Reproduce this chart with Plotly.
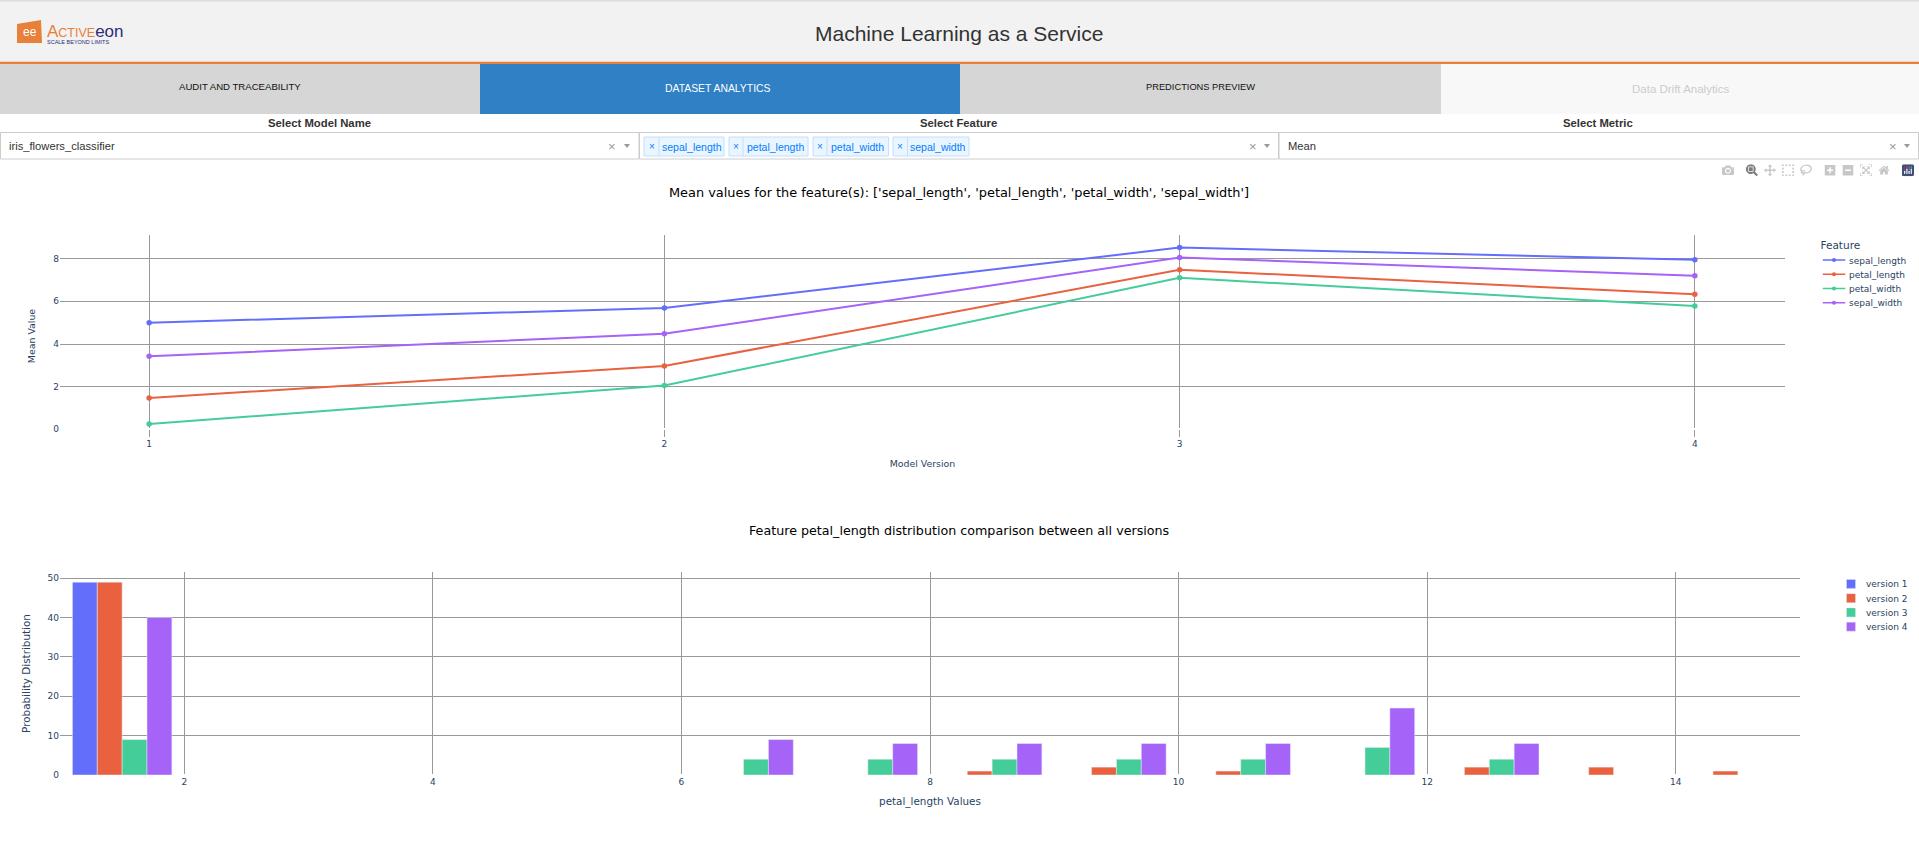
import plotly.graph_objects as go

# page title and tabs
page_title = "Machine Learning as a Service"
tab_labels = ["AUDIT AND TRACEABILITY", "DATASET ANALYTICS", "PREDICTIONS PREVIEW", "Data Drift Analytics"]
select_labels = ["Select Model Name", "Select Feature", "Select Metric"]
select_values = ["iris_flowers_classifier", "", "Mean"]

# line chart
features = ["sepal_length", "petal_length", "petal_width", "sepal_width"]
versions = [1, 2, 3, 4]
sepal_length = [5.0, 5.69, 8.52, 7.95]
petal_length = [1.47, 2.97, 7.48, 6.33]
petal_width = [0.25, 2.05, 7.1, 5.78]
sepal_width = [3.42, 4.48, 8.05, 7.2]

# histogram
bins = [1.5, 6.5, 7.5, 8.5, 9.5, 10.5, 11.5, 12.5, 13.5, 14.5]
version_1 = [49, None, None, None, None, None, None, None, None, None]
version_2 = [49, None, None, 1, 2, 1, None, 2, 2, 1]
version_3 = [9, 4, 4, 4, 4, 4, 7, 4, None, None]
version_4 = [40, 9, 8, 8, 8, 8, 17, 8, None, None]

W = 1919
H = 847
SANS = "Liberation Sans"
PLOT_FONT = "DejaVu Sans"
COLORS = ["#636efa", "#e9613f", "#44cc99", "#a563f7"]


def X(px):
    return px / W


def Y(py):
    return 1 - py / H


def box(x0, y0, x1, y1, fill, line=None, lw=1):
    return dict(type="rect", xref="paper", yref="paper", x0=X(x0), x1=X(x1), y0=Y(y0), y1=Y(y1),
                fillcolor=fill, line=dict(color=line or fill, width=lw if line else 0), layer="below")


def label(x, y, text, size, color="#333333", anchor="center", family=SANS):
    return dict(xref="paper", yref="paper", x=X(x), y=Y(y), text=text, showarrow=False, xanchor=anchor,
                yanchor="middle", font=dict(family=family, size=size, color=color))


def arrow(x, y):
    path = f"M {X(x - 3)} {Y(y - 2)} L {X(x + 3)} {Y(y - 2)} L {X(x)} {Y(y + 2)} Z"
    return dict(type="path", xref="paper", yref="paper", path=path, fillcolor="#999999", line=dict(width=0))


fig = go.Figure()

for name, vals, col in zip(features, [sepal_length, petal_length, petal_width, sepal_width], COLORS):
    fig.add_trace(go.Scatter(x=versions, y=vals, name=name, mode="lines+markers",
                             line=dict(color=col, width=2), marker=dict(size=5.5),
                             legend="legend", xaxis="x", yaxis="y"))

for i, vals in enumerate([version_1, version_2, version_3, version_4]):
    fig.add_trace(go.Bar(x=bins, y=vals, name=f"version {i + 1}", marker_color=COLORS[i],
                         legend="legend2", xaxis="x2", yaxis="y2"))

shapes = [
    box(0, 0, W, 62, "#f2f2f2"),
    box(0, 0, W, 1.5, "#dddddd"),
    box(0, 61.7, W, 64, "#e8803a"),
    box(0, 64, 480, 114, "#d6d6d6"),
    box(480, 64, 960, 114, "#2f80c4"),
    box(960, 64, 1441, 114, "#d6d6d6"),
    box(1441, 64, W, 114, "#f8f8f8"),
    box(0.5, 132.5, 639, 159, "#ffffff", "#cccccc"),
    box(639.5, 132.5, 1278.5, 159, "#ffffff", "#cccccc"),
    box(1279, 132.5, 1918.5, 159, "#ffffff", "#cccccc"),
    # logo
    dict(type="path", xref="paper", yref="paper", fillcolor="#e8803a", line=dict(width=0),
         path=f"M {X(17)} {Y(24)} L {X(41)} {Y(20)} L {X(42)} {Y(43)} L {X(17)} {Y(43)} Z"),
]

annotations = [
    label(959, 33, page_title, 21, "#333333"),
    label(240, 87, tab_labels[0], 9.6, "#111111"),
    label(717.5, 88, tab_labels[1], 10.4, "#ffffff"),
    label(1200, 87, tab_labels[2], 9.3, "#111111"),
    label(1680, 89, tab_labels[3], 11.5, "#cccccc"),
    label(319, 123, f"<b>{select_labels[0]}</b>", 11.3),
    label(958.5, 123, f"<b>{select_labels[1]}</b>", 11.3),
    label(1598, 123, f"<b>{select_labels[2]}</b>", 11.3),
    label(7, 146, select_values[0], 11.2, anchor="left"),
    label(1286, 146, select_values[2], 11.2, anchor="left"),
    # logo text
    label(29.5, 32.5, "ee", 12, "#ffffff"),
    label(45, 31.5, 'A<span style="font-size:12.5px">CTIVE</span><span style="color:#2c2c7c">eon</span>',
          17, "#e8803a", anchor="left"),
    label(45, 42, "SCALE BEYOND LIMITS", 5.5, "#2c2c7c", anchor="left"),
    # plot titles
    label(959, 192.5, "Mean values for the feature(s): ['sepal_length', 'petal_length', 'petal_width', 'sepal_width']",
          12.9, "#000000", family=PLOT_FONT),
    label(959, 530, "Feature petal_length distribution comparison between all versions",
          12.7, "#000000", family=PLOT_FONT),
]

for cx, ax in [(612, 627), (1253, 1267), (1893, 1907)]:
    annotations.append(label(cx, 146, "×", 13, "#999999"))
    shapes.append(arrow(ax, 146))

# feature chips of the multi select
chip_edges = [(644, 659, 724), (729, 743, 808), (813, 827, 888.5), (893, 907.5, 969)]
for name, (x0, xm, x1) in zip(features, chip_edges):
    shapes.append(box(x0, 137, x1, 156, "#ebf5ff", "#c2e0ff"))
    shapes.append(dict(type="line", xref="paper", yref="paper", x0=X(xm), x1=X(xm), y0=Y(137), y1=Y(156),
                       line=dict(color="#c2e0ff", width=1)))
    annotations.append(label((x0 + xm) / 2, 146.5, "×", 10, "#007eff"))
    annotations.append(label((xm + x1) / 2, 147, name, 10.5, "#007eff"))

fig.update_layout(
    width=W,
    height=H,
    autosize=False,
    margin=dict(l=0, r=0, t=0, b=0, autoexpand=False),
    paper_bgcolor="white",
    plot_bgcolor="white",
    font=dict(family=PLOT_FONT, size=9, color="#2a3f5f"),
    shapes=shapes,
    annotations=annotations,
    barmode="group",
    bargap=0.2,
    xaxis=dict(domain=[X(60), X(1785)], range=[0.827, 4.175], tickvals=versions, gridcolor="#999999",
               anchor="y", title=dict(text="Model Version", standoff=12, font=dict(size=9.4)), zeroline=False),
    yaxis=dict(domain=[Y(437), Y(235)], range=[-0.36, 9.11], dtick=2, gridcolor="#999999",
               zerolinecolor="white", zerolinewidth=2,
               anchor="x", title=dict(text="Mean Value", standoff=15, font=dict(size=9.4))),
    xaxis2=dict(domain=[X(60), X(1800)], range=[1, 15], dtick=2, gridcolor="#999999", anchor="y2",
                title=dict(text="petal_length Values", standoff=11, font=dict(size=10.4)), zeroline=False),
    yaxis2=dict(domain=[Y(775), Y(572)], range=[0, 51.58], dtick=10, gridcolor="#999999",
                zerolinecolor="white", zerolinewidth=2,
                anchor="x2", title=dict(text="Probability Distribution", standoff=14, font=dict(size=10.4))),
    # both legends are drawn at font size 12 and shrunk by the post script below
    legend=dict(x=X(1819), y=Y(235.5), xanchor="left", yanchor="top", title=dict(text="Feature", font=dict(size=14)),
                font=dict(size=12)),
    legend2=dict(x=X(1836), y=Y(573), xanchor="left", yanchor="top", font=dict(size=12)),
)

fig.write_html(
    "out.html",
    config=dict(displayModeBar=True),
    post_script=(
        "document.body.style.margin='0';"
        "var m=document.querySelector('.modebar');"
        "if(m){m.style.top='162px';m.style.right='2px';m.style.transform='scale(0.75)';"
        "m.style.transformOrigin='top right';}"
        "document.querySelectorAll('.plotlyjsicon rect').forEach(function(r){r.style.fill='#3f4f75';});"
        "document.querySelectorAll('g.legend, g.legend2').forEach(function(g){"
        "g.setAttribute('transform', g.getAttribute('transform')+' scale(0.75)');});"
    ),
)
